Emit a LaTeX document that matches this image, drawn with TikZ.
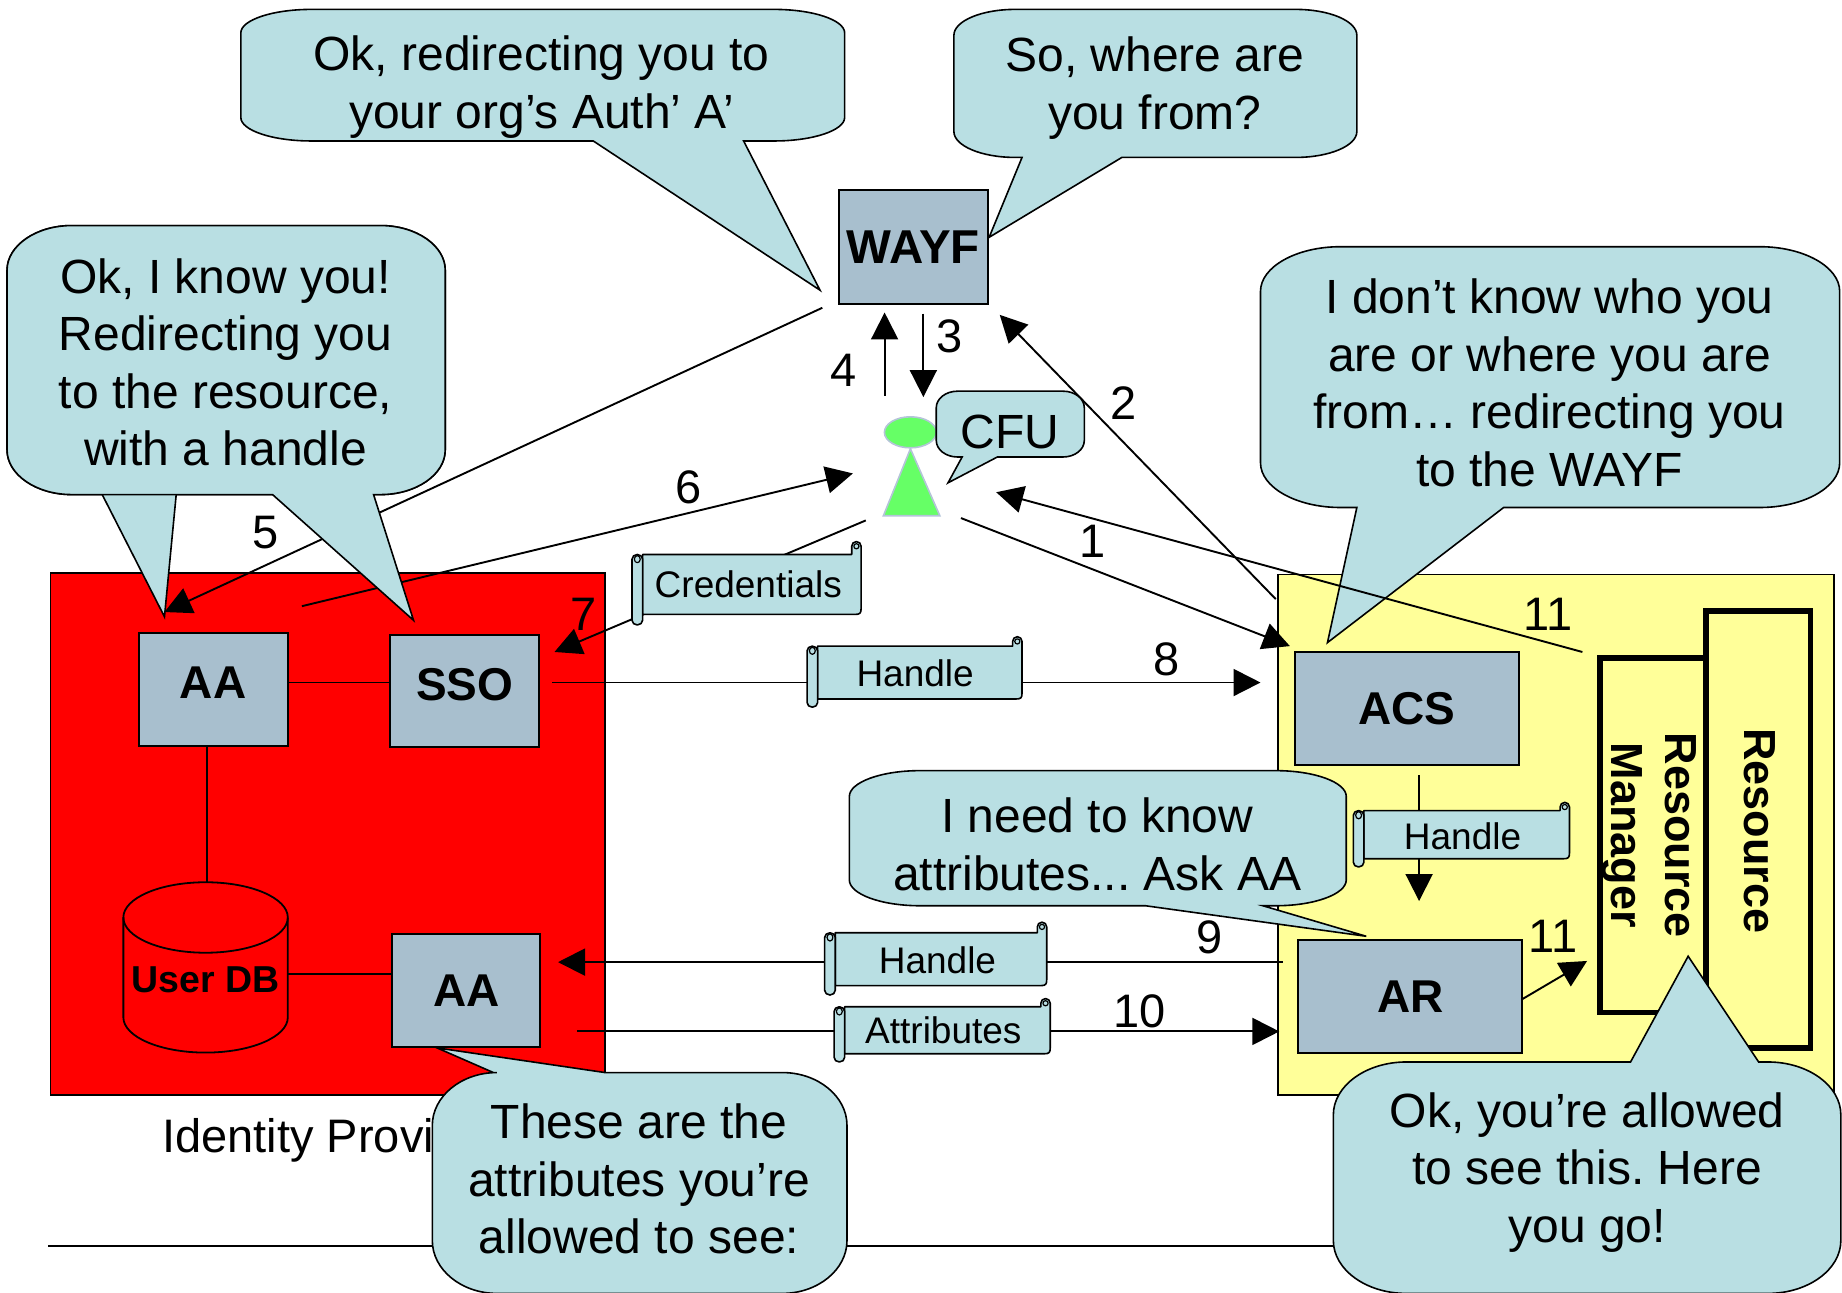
\documentclass[tikz,border=0pt]{standalone}
\usepackage{fontspec}
\setmainfont{Liberation Sans}
\usetikzlibrary{arrows.meta,shapes.geometric}
\AtBeginDocument{\frenchspacing}
\definecolor{bubblecol}{HTML}{B9DFE3}
\definecolor{boxcol}{HTML}{A8BFCE}
\definecolor{paleyellow}{HTML}{FFFF99}
\definecolor{mangreen}{HTML}{66FF66}
\definecolor{manedge}{HTML}{B4C4D8}
\tikzset{
  bubble/.style={fill=bubblecol,draw=black,line width=1.6pt},
  bubbletext/.style={align=center,inner sep=0pt,font=\fontsize{48}{57.6}\selectfont},
  numlabel/.style={inner sep=0pt,font=\fontsize{47}{50}\selectfont},
  boxlabel/.style={fill=boxcol,draw=black,line width=2pt,inner sep=0pt,font=\fontsize{46}{50}\bfseries},
  wire/.style={draw=black,line width=1.9pt},
  arrowwire/.style={wire,-{Triangle[length=27pt,width=27pt]},shorten >=0pt},
  scrolltext/.style={inner sep=0pt,font=\fontsize{37}{44}\selectfont},
  scrollshape/.style={fill=bubblecol,draw=black,line width=1.6pt,line join=round},
  rotlabel/.style={rotate=-90,align=center,inner sep=0pt,font=\fontsize{45}{54}\bfseries},
  heavybox/.style={draw=black,line width=5.5pt,fill=paleyellow}
}
% #1 L #2 T #3 R #4 B #5 rx #6 ry #7 top insert #8 bottom insert
\newcommand\calloutpath[8]{%
  \path[bubble] ({#1+#5},#2) #7 -- ({#3-#5},#2)
   .. controls ({#3-0.45*#5},#2) and (#3,{#2+0.45*#6}) .. (#3,{#2+#6})
   -- (#3,{#4-#6})
   .. controls (#3,{#4-0.45*#6}) and ({#3-0.45*#5},#4) .. ({#3-#5},#4)
   #8 -- ({#1+#5},#4)
   .. controls ({#1+0.45*#5},#4) and (#1,{#4-0.45*#6}) .. (#1,{#4-#6})
   -- (#1,{#2+#6})
   .. controls (#1,{#2+0.45*#6}) and ({#1+0.45*#5},#2) .. ({#1+#5},#2) -- cycle;}
% scroll: #1 L #2 T #3 R #4 B #5 curl top #6 roll bottom
\newcommand\scrollpaper[6]{%
  \path[scrollshape] ({#1+9},#2) -- ({#3-8},#2) -- ({#3-8},{#5+4})
    arc[start angle=180,end angle=360,x radius=4,y radius=4] -- (#3,{#4-5})
    .. controls (#3,{#4-1}) and ({#3-1},#4) .. ({#3-5},#4) -- ({#1+9},#4) -- cycle;
  \path[scrollshape,line width=1.2pt] ({#3-4},{#5+4}) circle[x radius=2.2,y radius=2.2];
  \path[scrollshape] (#1,{#2+4}) arc[start angle=180,end angle=360,x radius=4.5,y radius=4]
    -- ({#1+9},{#6-4}) arc[start angle=0,end angle=180,x radius=4.5,y radius=4] -- cycle;
  \path[scrollshape,line width=1.2pt] ({#1+4.5},{#2+4}) circle[x radius=2.5,y radius=3];
}
\begin{document}
\begin{tikzpicture}[x=1.1747pt,y=-1.1747pt]
\useasboundingbox (0,0) rectangle (1568,1100);
% coordinates
\coordinate (p5s) at (700,262); \coordinate (p5e) at (140,521);
\coordinate (p6s) at (257,516); \coordinate (p6e) at (726,403);
\coordinate (p7s) at (737,443); \coordinate (p7e) at (472,555);
\coordinate (p1s) at (818,441); \coordinate (p1e) at (1098,550);
\coordinate (p2s) at (1086,510); \coordinate (p2e) at (851,268);
\coordinate (p3s) at (786,267); \coordinate (p3e) at (786,338);
\coordinate (p4s) at (753,337); \coordinate (p4e) at (753,266);
\coordinate (p11as) at (1347,555); \coordinate (p11ae) at (848,419);
\coordinate (p8s) at (470,581); \coordinate (p8e) at (1073,581);
\coordinate (p9s) at (1092,819); \coordinate (p9e) at (475,819);
\coordinate (p10s) at (491,878); \coordinate (p10e) at (1089,878);
\coordinate (phs) at (1208,660); \coordinate (phe) at (1208,767);
\coordinate (p11bs) at (1295,851); \coordinate (p11be) at (1351,818);
\coordinate (bl) at (41,1061); \coordinate (br) at (1140,1061);
% backgrounds
\path[fill=red,draw=black,line width=1.8pt] (43,488) rectangle (515,932);
\path[fill=paleyellow,draw=black,line width=1.5pt] (1088,489) rectangle (1561,932);
\node[anchor=base west,inner sep=0pt,font=\fontsize{47}{57.6}\selectfont] (idp) at (138,981) {Identity Provider};
\draw[wire] (bl) -- (br);
% resource boxes
\path[heavybox] (1452,520) rectangle (1541,892);
\path[heavybox] (1362,560) rectangle (1452,862);
\node[rotlabel] (res) at (1498,707) {Resource};
\node[rotlabel] (rm) at (1404,711) {Resource\\Manager};
% boxes
\node[boxlabel,minimum width=149pt,minimum height=114pt,font=\fontsize{47.5}{50}\bfseries] (wayf) at (777.5,210.5) {WAYF};
\node[boxlabel,minimum width=149pt,minimum height=113pt] (aa) at (181.5,587) {\raisebox{14pt}{AA}};
\node[boxlabel,minimum width=149pt,minimum height=112pt] (sso) at (395.5,588.5) {\raisebox{13pt}{SSO}};
\node[boxlabel,minimum width=224pt,minimum height=113pt] (acs) at (1197.5,603) {ACS};
\node[boxlabel,minimum width=224pt,minimum height=113pt] (ar) at (1200.5,848) {AR};
\node[boxlabel,minimum width=148pt,minimum height=113pt] (aa2) at (397,843) {AA};
% user db
\path[fill=red,draw=black,line width=1.8pt] (105,781) -- (105,866)
  arc[start angle=180,end angle=0,x radius=70,y radius=30] -- (245,781)
  arc[start angle=0,end angle=-180,x radius=70,y radius=30] -- cycle;
\draw[line width=1.8pt] (105,781) arc[start angle=180,end angle=0,x radius=70,y radius=30];
\node[inner sep=0pt,font=\fontsize{37.5}{44}\bfseries] (db) at (175,834) {User DB};
\coordinate (dbe) at (245,829); \coordinate (dbt) at (176,752);
% plain connectors
\draw[wire] (aa.east |- p8s) -- (sso.west |- p8s);
\draw[wire] (dbt |- aa.south) -- (dbt);
\draw[wire] (dbe) -- (dbe -| aa2.west);
\draw[arrowwire] (p8s) -- (p8e);
\draw[arrowwire] (p9s) -- (p9e);
\draw[arrowwire] (p10s) -- (p10e);
\draw[arrowwire] (phs) -- (phe);
\draw[arrowwire] (p7s) -- (p7e);
\draw[arrowwire] (p1s) -- (p1e);
\draw[arrowwire] (p2s) -- (p2e);
\draw[arrowwire] (p3s) -- (p3e);
\draw[arrowwire] (p4s) -- (p4e);
\draw[arrowwire] (p6s) -- (p6e);
\draw[arrowwire] (p11bs) -- (p11be);
% person
\path[fill=mangreen,draw=manedge,line width=1.6pt] (775,382) -- (752,439) -- (800,439) -- cycle;
\node[ellipse,fill=mangreen,draw=manedge,line width=1.6pt,minimum width=52pt,minimum height=31pt,inner sep=0pt] (user) at (775,368) {};
% scrolls
\scrollpaper{538}{472}{733}{523}{461}{532}
\node[scrolltext] (cred) at (637,497) {Credentials};
\scrollpaper{687}{550}{870}{595}{542}{602}
\node[scrolltext] (h1) at (779,573) {Handle};
\scrollpaper{1152}{690}{1336}{731}{683}{738}
\node[scrolltext] (h2) at (1245,712) {Handle};
\scrollpaper{702}{794}{891}{839}{785}{847}
\node[scrolltext] (h3) at (798,817) {Handle};
\scrollpaper{710}{857}{894}{897}{850}{904}
\node[scrolltext] (attr) at (803,877) {Attributes};
% bubbles
\calloutpath{205}{8}{719}{120}{60}{20}{}{-- (633,120) -- (698,247) -- (505,120)}
\node[bubbletext] (b1) at (461,74) {Ok, redirecting you to\\your org’s Auth’ A’};
\calloutpath{812}{8}{1155}{134}{52}{22}{}{-- (955,134) -- (842,202) -- (870,134)}
\node[bubbletext] (b2) at (983,75) {So, where are\\you from?};
\calloutpath{797}{333}{923}{389}{18}{14}{}{-- (849,389) -- (807,411) -- (819,389)}
\node[bubbletext] (cfu) at (860,368) {CFU};
\calloutpath{1073}{210}{1566}{432}{68}{38}{}{-- (1280,432) -- (1130,547) -- (1155,432)}
\node[bubbletext] (b4) at (1319,326) {I don’t know who you\\are or where you are\\from… redirecting you\\to the WAYF};
% arrow 11 crosses the tail
\draw[arrowwire] (p11as) -- (p11ae);
% left-tail bubble, arrow 5, right-tail bubble
\calloutpath{6}{192}{379}{421}{55}{38}{}{-- (150,421) -- (140,525) -- (87,421)}
\draw[arrowwire] (p5s) -- (p5e);
\calloutpath{6}{192}{379}{421}{55}{38}{}{-- (318,421) -- (352,528) -- (232,421)}
\node[bubbletext] (b3) at (192,308.5) {Ok, I know you!\\Redirecting you\\to the resource,\\with a handle};
\calloutpath{723}{656}{1146}{771}{60}{22}{}{-- (1075,771) -- (1163,797) -- (975,771)}
\node[bubbletext] (b5) at (934,718.5) {I need to know\\attributes... Ask AA};
\calloutpath{368}{913}{721}{1101}{55}{45}{-- (420,913) -- (372,892) -- (515,913)}{}
\node[bubbletext] (b6) at (544,1003.5) {These are the\\attributes you’re\\allowed to see:};
\calloutpath{1135}{904}{1567}{1101}{62}{45}{-- (1388,904) -- (1437,814) -- (1497,904)}{}
\node[bubbletext] (b7) at (1351,998) {Ok, you’re allowed\\to see this. Here\\you go!};
% numbers
\node[numlabel] (n1) at (930,461) {1};
\node[numlabel] (n2) at (956,343) {2};
\node[numlabel] (n3) at (808,286) {3};
\node[numlabel] (n4) at (718,315) {4};
\node[numlabel] (n5) at (226,453) {5};
\node[numlabel] (n6) at (586,415) {6};
\node[numlabel] (n7) at (497,523) {7};
\node[numlabel] (n8) at (993,561) {8};
\node[numlabel] (n9) at (1030,798) {9};
\node[numlabel] (n10) at (970,861) {10};
\node[numlabel] (n11a) at (1318,523) {11};
\node[numlabel] (n11b) at (1322,797) {11};
\end{tikzpicture}
\end{document}
